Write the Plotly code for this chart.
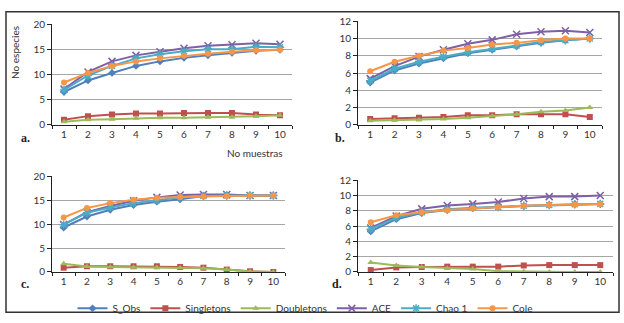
import plotly.graph_objects as go

samples = [str(i) for i in range(1, 11)]
series_names = ["S_Obs", "Singletons", "Doubletons", "ACE", "Chao 1", "Cole"]

# Panel a
a_sobs = [6.5, 8.8, 10.3, 11.7, 12.6, 13.3, 13.8, 14.3, 14.7, 14.9]
a_single = [1.0, 1.7, 2.0, 2.2, 2.2, 2.3, 2.3, 2.3, 2.0, 1.9]
a_double = [0.6, 1.0, 1.1, 1.3, 1.4, 1.4, 1.5, 1.5, 1.7, 1.9]
a_ace = [7.1, 10.5, 12.6, 13.8, 14.5, 15.2, 15.7, 15.9, 16.2, 16.0]
a_chao = [6.9, 9.8, 11.7, 13.2, 14.0, 14.6, 15.0, 15.0, 15.5, 15.4]
a_cole = [8.4, 10.3, 11.7, 12.6, 13.2, 13.7, 14.1, 14.5, 14.8, 14.9]

# Panel b
b_sobs = [4.9, 6.3, 7.1, 7.7, 8.3, 8.7, 9.1, 9.5, 9.8, 10.0]
b_single = [0.66, 0.74, 0.8, 0.9, 1.1, 1.1, 1.2, 1.2, 1.2, 0.9]
b_double = [0.45, 0.5, 0.55, 0.65, 0.8, 1.0, 1.2, 1.5, 1.65, 2.0]
b_ace = [5.35, 6.8, 7.9, 8.7, 9.4, 9.85, 10.5, 10.8, 10.9, 10.7]
b_chao = [5.1, 6.5, 7.3, 7.9, 8.4, 8.8, 9.2, 9.6, 9.8, 10.0]
b_cole = [6.2, 7.3, 8.0, 8.6, 8.9, 9.3, 9.5, 9.8, 10.0, 10.0]

# Panel c
c_sobs = [9.3, 11.6, 13.0, 14.0, 14.7, 15.2, 15.9, 16.0, 16.0, 16.0]
c_single = [0.9, 1.2, 1.2, 1.2, 1.2, 1.05, 0.9, 0.5, 0.15, 0.0]
c_double = [1.7, 1.15, 1.05, 1.0, 0.95, 0.9, 0.8, 0.5, 0.1, 0.0]
c_ace = [9.9, 12.5, 13.8, 14.9, 15.6, 16.1, 16.2, 16.2, 16.0, 16.0]
c_chao = [9.9, 12.4, 13.5, 14.4, 15.0, 15.6, 15.9, 16.0, 16.0, 16.0]
c_cole = [11.4, 13.4, 14.4, 15.1, 15.5, 15.7, 15.8, 15.9, 16.0, 16.0]

# Panel d
d_sobs = [5.3, 6.9, 7.7, 8.1, 8.3, 8.5, 8.65, 8.75, 8.85, 8.9]
d_single = [0.25, 0.6, 0.65, 0.7, 0.7, 0.7, 0.85, 0.9, 0.9, 0.9]
d_double = [1.25, 0.85, 0.65, 0.5, 0.4, 0.1, 0.05, 0.0, 0.0, 0.0]
d_ace = [5.75, 7.3, 8.25, 8.7, 8.9, 9.15, 9.6, 9.85, 9.85, 10.0]
d_chao = [5.6, 7.1, 7.8, 8.2, 8.4, 8.5, 8.65, 8.75, 8.85, 8.9]
d_cole = [6.5, 7.4, 7.8, 8.1, 8.3, 8.5, 8.65, 8.75, 8.8, 8.9]

panels = [
    [a_sobs, a_single, a_double, a_ace, a_chao, a_cole],
    [b_sobs, b_single, b_double, b_ace, b_chao, b_cole],
    [c_sobs, c_single, c_double, c_ace, c_chao, c_cole],
    [d_sobs, d_single, d_double, d_ace, d_chao, d_cole],
]
panel_letters = ["a.", "b.", "c.", "d."]
panel_ymax = [20, 12, 20, 12]
panel_ystep = [5, 2, 5, 2]

colors = ["#4F7FBD", "#C0504D", "#9BBB59", "#7F5FA6", "#4BACC6", "#F79646"]
symbols = ["diamond", "square", "triangle-up", "x-thin-open", "asterisk-open", "circle"]
msizes = [6, 6, 6, 7, 7, 6]

W, H = 624, 323
# pixel boxes: (x0, x1, y_top, y_bottom)
boxes = [(52, 292, 18, 123), (358, 602, 15, 123), (52, 285, 177, 277), (358, 613, 181, 277)]

fig = go.Figure()
font_family = "Lato, Open Sans, sans-serif"

for p, data in enumerate(panels):
    xa = "x" if p == 0 else f"x{p+1}"
    ya = "y" if p == 0 else f"y{p+1}"
    for s, vals in enumerate(data):
        sym = symbols[s]
        marker = dict(symbol=sym, size=msizes[s], color=colors[s])
        if sym.endswith("open"):
            marker["line"] = dict(color=colors[s], width=1.5)
        fig.add_trace(go.Scatter(
            x=samples, y=vals, mode="lines+markers", name=series_names[s],
            line=dict(color=colors[s], width=2), marker=marker,
            xaxis=xa, yaxis=ya, showlegend=(p == 0), legendgroup=series_names[s],
        ))
    x0, x1, yt, yb = boxes[p]
    ymax = panel_ymax[p]
    step = panel_ystep[p]
    ticks = list(range(0, ymax + 1, step))
    xkey = "xaxis" if p == 0 else f"xaxis{p+1}"
    ykey = "yaxis" if p == 0 else f"yaxis{p+1}"
    fig.update_layout(**{
        xkey: dict(domain=[x0 / W, x1 / W], anchor=ya, type="category",
                   range=[-0.5, 9.5], showline=True, linecolor="#222", linewidth=1,
                   ticks="outside", tickson="boundaries", ticklen=3, tickcolor="#222",
                   showgrid=False, tickfont=dict(size=10, color="#333", family=font_family)),
        ykey: dict(domain=[1 - yb / H, 1 - yt / H], anchor=xa, range=[0, ymax],
                   tickvals=ticks, showline=True, linecolor="#222", linewidth=1,
                   ticks="outside", ticklen=4, tickcolor="#222", showgrid=False,
                   zeroline=False,
                   minor=dict(tickvals=ticks[1:-1], showgrid=True, gridcolor="#A6A6A6",
                              gridwidth=1, ticks=""),
                   tickfont=dict(size=10, color="#333", family=font_family)),
    })

annotations = []
letter_pos = [(25, 137), (340, 137), (25, 290), (337, 290)]
for (lx, ly), t in zip(letter_pos, panel_letters):
    annotations.append(dict(x=lx / W, y=1 - ly / H, xref="paper", yref="paper", text=f"<b>{t}</b>",
                            showarrow=False, font=dict(size=12, family="Liberation Serif", color="#222"),
                            xanchor="center", yanchor="middle"))
annotations.append(dict(x=255 / W, y=1 - 153 / H, xref="paper", yref="paper", text="No muestras",
                        showarrow=False, font=dict(size=10, family=font_family, color="#333"),
                        xanchor="center", yanchor="middle"))
annotations.append(dict(x=15 / W, y=1 - 48 / H, xref="paper", yref="paper", text="No especies",
                        showarrow=False, textangle=-90,
                        font=dict(size=10, family=font_family, color="#333"),
                        xanchor="center", yanchor="middle"))

fig.update_layout(
    width=W, height=H, margin=dict(l=0, r=0, t=0, b=0),
    paper_bgcolor="white", plot_bgcolor="white",
    font=dict(family=font_family, size=10, color="#333"),
    annotations=annotations,
    shapes=[dict(type="rect", xref="paper", yref="paper", x0=6 / W, x1=619 / W,
                 y0=1 - 319 / H, y1=1 - 5 / H, line=dict(color="#333", width=1.5))],
    legend=dict(orientation="h", x=305 / W, xanchor="center", y=1 - 315 / H, yanchor="middle",
                font=dict(size=10, family=font_family, color="#333"),
                itemwidth=30, tracegroupgap=0, bgcolor="rgba(0,0,0,0)"),
)

fig.write_html("out.html")
